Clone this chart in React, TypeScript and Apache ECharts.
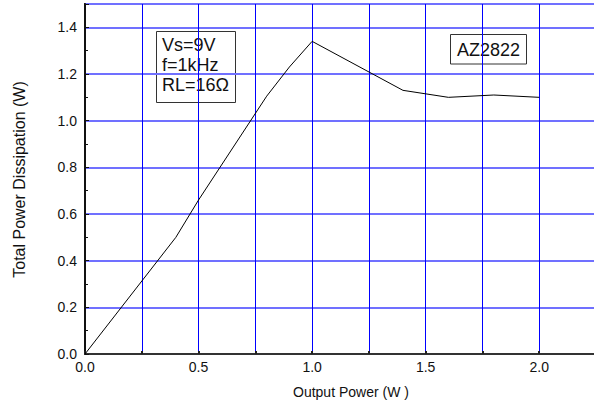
import React, { useEffect, useRef } from "react";
import * as echarts from "echarts";

// Output power (W) vs. total power dissipation (W), Vs=9V, f=1kHz, RL=16Ω
const outputPower = [0.0, 0.4, 0.5, 0.8, 0.9, 1.0, 1.4, 1.6, 1.8, 2.0];
const totalDissipation = [0.0, 0.5, 0.66, 1.105, 1.23, 1.34, 1.13, 1.1, 1.11, 1.1];

const conditionLines = ["Vs=9V", "f=1kHz", "RL=16Ω"];
const partName = "AZ2822";
const xTitle = "Output Power (W )";
const yTitle = "Total Power Dissipation (W)";

const FONT = '"Liberation Sans", Arial, sans-serif';

export default function App() {
  const ref = useRef<HTMLDivElement>(null);

  useEffect(() => {
    if (!ref.current) return;
    document.body.style.margin = "0";
    const chart = echarts.init(ref.current, undefined, { renderer: "svg" });

    const points = outputPower.map((p, i) => [p, totalDissipation[i]]);

    chart.setOption({
      animation: false,
      backgroundColor: "#ffffff",
      grid: {
        left: 85,
        right: -2,
        top: 4,
        bottom: 56,
        outerBoundsMode: "none",
        show: true,
        borderColor: "#333333",
        borderWidth: 2,
        backgroundColor: "transparent",
      },
      xAxis: {
        type: "value",
        min: 0,
        max: 2.25,
        interval: 0.25,
        axisLine: { show: true, lineStyle: { color: "#333333", width: 2 } },
        axisTick: { show: true, inside: true, length: 3, lineStyle: { color: "#222222", width: 2 } },
        splitLine: { show: true, lineStyle: { color: "#0000ff", width: 1 } },
        axisLabel: {
          margin: 6,
          color: "#111111",
          fontFamily: FONT,
          fontSize: 14,
          formatter: (v: number) =>
            Math.round(v * 100) % 50 === 0 ? v.toFixed(1) : "",
        },
      },
      yAxis: {
        type: "value",
        min: 0,
        max: 1.5,
        interval: 0.2,
        axisLine: { show: true, lineStyle: { color: "#111111", width: 2 } },
        axisTick: { show: true, inside: true, length: 4, lineStyle: { color: "#111111", width: 1 } },
        minorTick: { show: true, splitNumber: 2, length: 3, lineStyle: { color: "#111111", width: 1 } },
        splitLine: { show: true, lineStyle: { color: "#7070ff", width: 2 } },
        axisLabel: {
          margin: 8,
          color: "#111111",
          fontFamily: FONT,
          fontSize: 14,
          formatter: (v: number) =>
            Math.round(v * 100) % 20 === 0 ? v.toFixed(1) : "",
        },
      },
      series: [
        {
          type: "line",
          data: points,
          showSymbol: false,
          lineStyle: { color: "#000000", width: 1 },
          z: 5,
        },
      ],
      graphic: [
        {
          type: "text",
          left: 293,
          top: 385,
          style: {
            text: xTitle,
            font: `14px ${FONT}`,
            fill: "#111111",
          },
        },
        {
          type: "text",
          x: 11,
          y: 179.5,
          rotation: Math.PI / 2,
          style: {
            text: yTitle,
            font: `16px ${FONT}`,
            fill: "#111111",
            align: "center",
            verticalAlign: "top",
          },
        },
        {
          type: "group",
          z: 10,
          children: [
            {
              type: "rect",
              shape: { x: 156.5, y: 31.5, width: 79, height: 71 },
              style: { fill: "#ffffff", stroke: "#333333", lineWidth: 1 },
            },
            ...conditionLines.map((t, i) => ({
              type: "text",
              x: 162,
              y: 44.7 + i * 20.3,
              style: {
                text: t,
                font: `18px ${FONT}`,
                fill: "#111111",
                verticalAlign: "middle",
              },
            })),
          ],
        },
        {
          type: "group",
          z: 10,
          children: [
            {
              type: "rect",
              shape: { x: 450.5, y: 34.5, width: 76, height: 29.5 },
              style: { fill: "#ffffff", stroke: "#333333", lineWidth: 1 },
            },
            {
              type: "text",
              x: 488.5,
              y: 49.5,
              style: {
                text: partName,
                font: `18px ${FONT}`,
                fill: "#111111",
                align: "center",
                verticalAlign: "middle",
              },
            },
          ],
        },
      ],
    });

    return () => chart.dispose();
  }, []);

  return (
    <div
      ref={ref}
      style={{ position: "fixed", left: 0, top: 0, width: 594, height: 410 }}
    />
  );
}
